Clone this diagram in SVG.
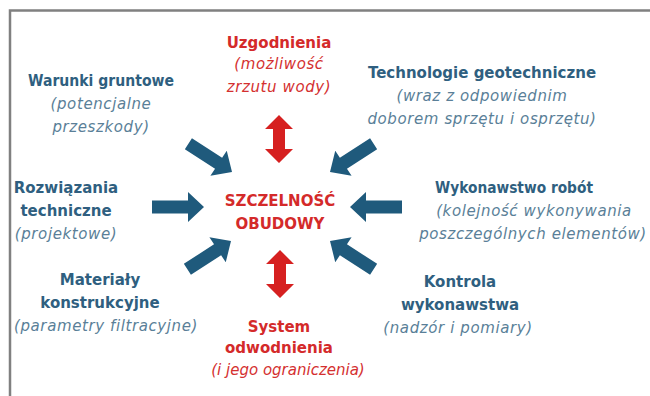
<svg xmlns="http://www.w3.org/2000/svg" width="650" height="396" viewBox="0 0 650 396">
<style>
.t{font-family:"DejaVu Sans",Verdana,sans-serif;font-weight:bold;font-size:15px;text-anchor:middle}
.s{font-family:"DejaVu Sans",Verdana,sans-serif;font-style:italic;font-size:15px;letter-spacing:0.6px;text-anchor:middle}
.b{fill:#2f5f80}
.bi{fill:#5a7f98}
.r{fill:#d42a2a}
.ri{fill:#d43030}
.ba{fill:#1f5a7c}
.ra{fill:#d62020}
</style>
<defs>
<path id="ar" d="M-52,-6.5 L-16,-6.5 L-16,-15 L0,0 L-16,15 L-16,6.5 L-52,6.5 Z"/>
<path id="dr" d="M0,0 L14,14 L6,14 L6,34 L14,34 L0,48 L-14,34 L-6,34 L-6,14 L-14,14 Z"/>
</defs>
<rect width="650" height="396" fill="#ffffff"/>
<path d="M10,396 V10.5 H650" fill="none" stroke="#808080" stroke-width="2.5"/>
<g id="connectors">
<use href="#ar" class="ba" transform="translate(232,172) rotate(33)"/>
<use href="#ar" class="ba" transform="translate(330,172) rotate(147)"/>
<use href="#ar" class="ba" transform="translate(204,207)"/>
<use href="#ar" class="ba" transform="translate(350,207) rotate(180)"/>
<use href="#ar" class="ba" transform="translate(231,241) rotate(-33)"/>
<use href="#ar" class="ba" transform="translate(330,241) rotate(-147)"/>
<use href="#dr" class="ra" transform="translate(279,115)"/>
<use href="#dr" class="ra" transform="translate(280,250)"/>
</g>
<g id="center">
<text class="t r" x="280" y="206">SZCZELNOŚĆ</text>
<text class="t r" x="280" y="229">OBUDOWY</text>
</g>
<g id="uzgodnienia">
<text class="t r" x="279" y="48">Uzgodnienia</text>
<text class="s ri" x="279" y="69">(możliwość</text>
<text class="s ri" x="279" y="92">zrzutu wody)</text>
</g>
<g id="warunki">
<text class="t b" x="101" y="86" textLength="146" lengthAdjust="spacingAndGlyphs">Warunki gruntowe</text>
<text class="s bi" x="101" y="109">(potencjalne</text>
<text class="s bi" x="101" y="132">przeszkody)</text>
</g>
<g id="technologie">
<text class="t b" x="482" y="78">Technologie geotechniczne</text>
<text class="s bi" x="482" y="101">(wraz z odpowiednim</text>
<text class="s bi" x="482" y="124">doborem sprzętu i osprzętu)</text>
</g>
<g id="rozwiazania">
<text class="t b" x="66" y="193">Rozwiązania</text>
<text class="t b" x="66" y="216">techniczne</text>
<text class="s bi" x="66" y="239">(projektowe)</text>
</g>
<g id="wykonawstwo">
<text class="t b" x="514" y="193" textLength="158" lengthAdjust="spacingAndGlyphs">Wykonawstwo robót</text>
<text class="s bi" x="534" y="216">(kolejność wykonywania</text>
<text class="s bi" x="533" y="239">poszczególnych elementów)</text>
</g>
<g id="materialy">
<text class="t b" x="100" y="285">Materiały</text>
<text class="t b" x="100" y="308">konstrukcyjne</text>
<text class="s bi" x="106" y="331">(parametry filtracyjne)</text>
</g>
<g id="system">
<text class="t r" x="279" y="332">System</text>
<text class="t r" x="279" y="353">odwodnienia</text>
<text class="s ri" x="288" y="375" style="letter-spacing:0">(i jego ograniczenia)</text>
</g>
<g id="kontrola">
<text class="t b" x="460" y="287">Kontrola</text>
<text class="t b" x="460" y="310">wykonawstwa</text>
<text class="s bi" x="458" y="333">(nadzór i pomiary)</text>
</g>
</svg>
